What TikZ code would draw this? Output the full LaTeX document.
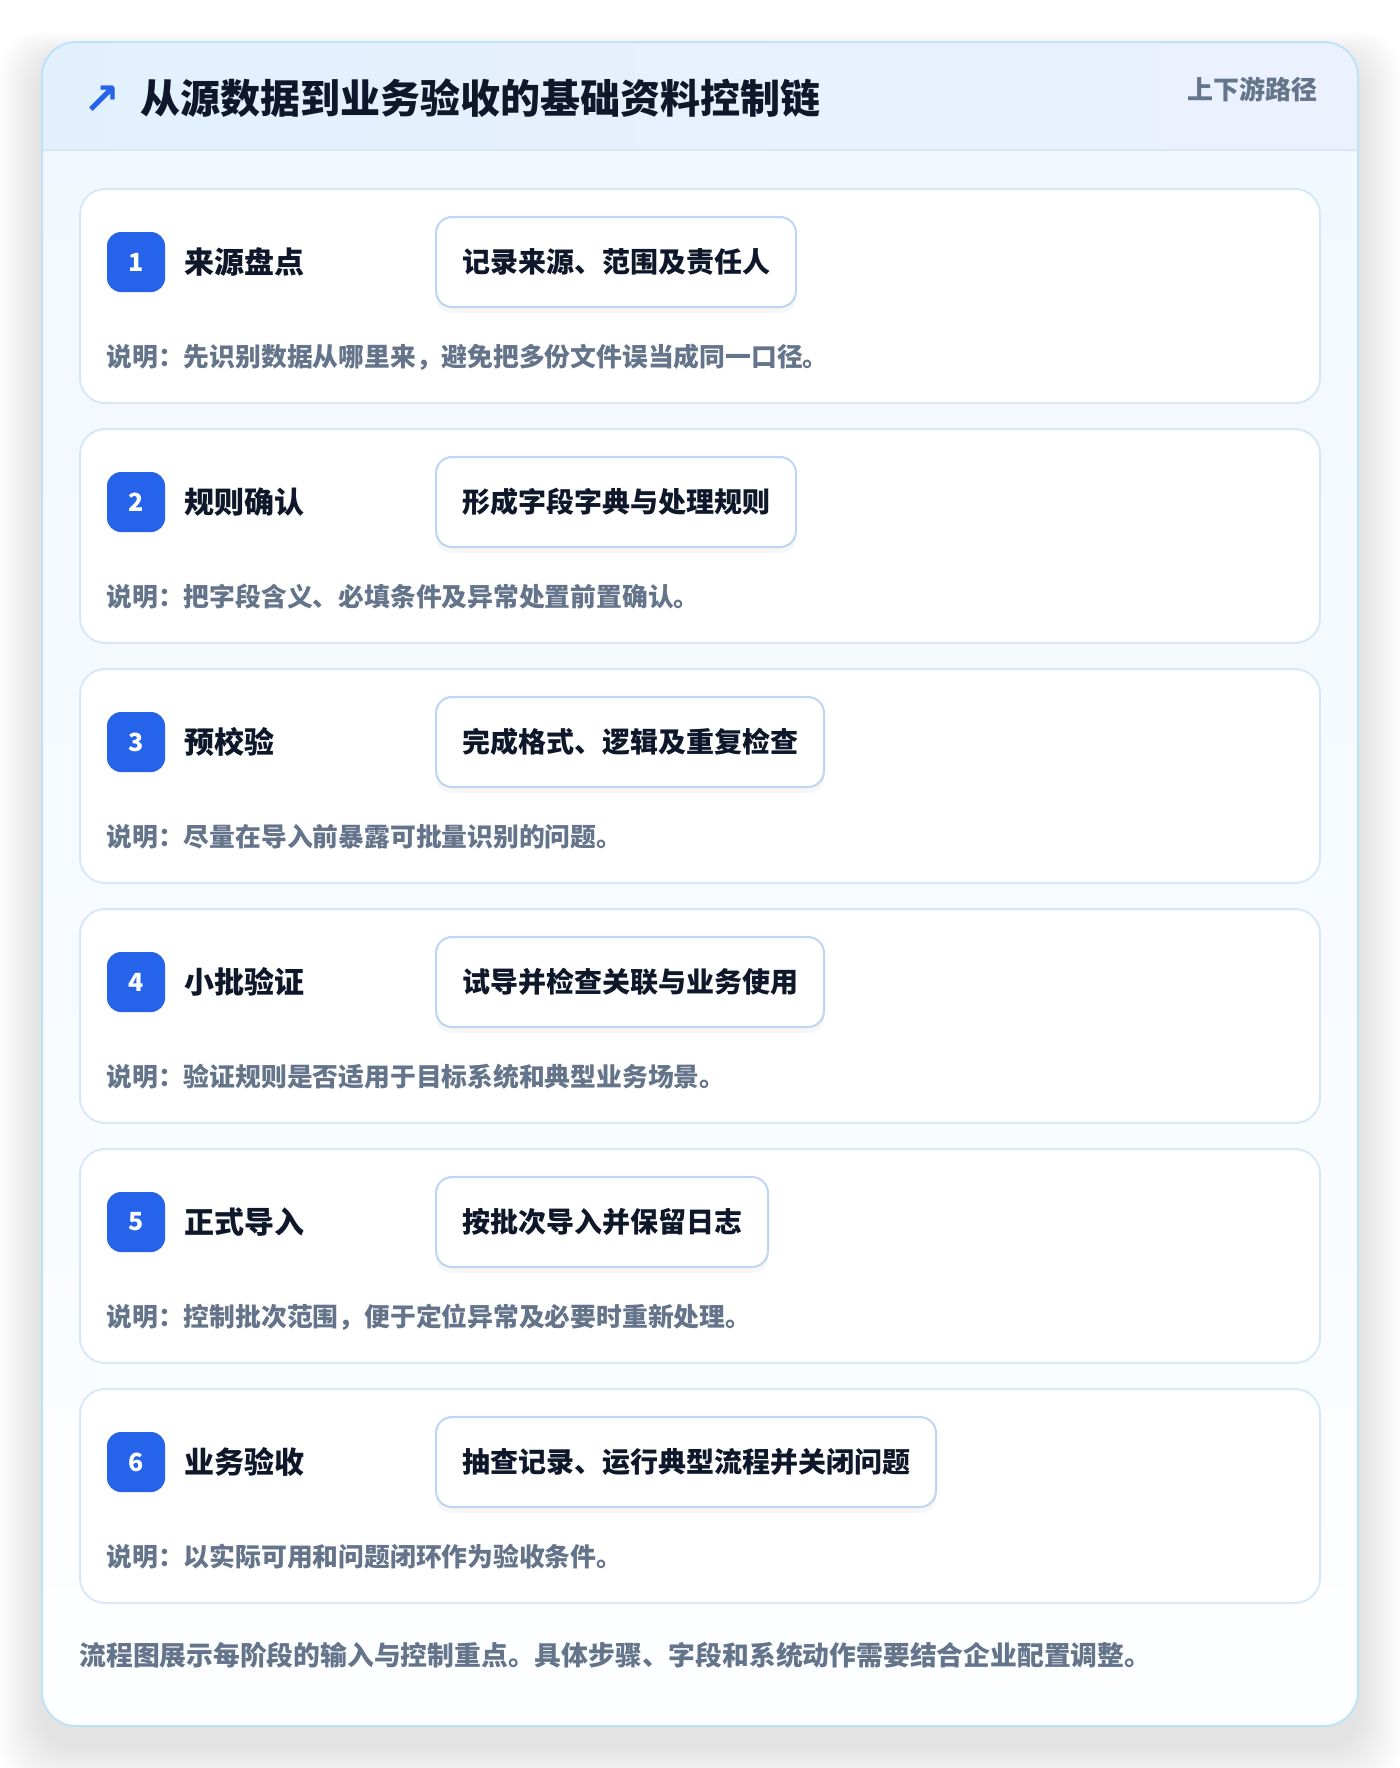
\documentclass[tikz,border=0pt]{standalone}
\usepackage{fontspec}
\setmainfont{Noto Sans CJK SC}
\newfontfamily\symfont{DejaVu Sans}
\usetikzlibrary{positioning,shadows}

\definecolor{badgeblue}{HTML}{2563EB}
\definecolor{titleink}{HTML}{0F172A}
\definecolor{noteink}{HTML}{64748B}
\definecolor{cardedge}{HTML}{BEE3F6}
\definecolor{headleft}{HTML}{E2F0FD}
\definecolor{headright}{HTML}{ECF1FE}
\definecolor{headline}{HTML}{D5E7F8}
\definecolor{bodytop}{HTML}{F0F8FF}
\definecolor{bodybottom}{HTML}{FDFEFF}
\definecolor{stepline}{HTML}{D9E8F8}
\definecolor{taskline}{HTML}{BCD6F3}

\tikzset{
  stepcard/.style={draw=stepline, fill=white, line width=1pt, rounded corners=12.5pt},
  badge/.style={fill=badgeblue, text=white, rounded corners=7pt, minimum width=29pt,
    minimum height=30pt, inner sep=0pt, font=\fontsize{12.5}{14}\selectfont\bfseries},
  steplabel/.style={anchor=west, inner sep=0pt, text=titleink,
    font=\fontsize{15}{18}\selectfont\bfseries},
  taskbox/.style={anchor=west, draw=taskline, fill=white, line width=1pt, rounded corners=8pt,
    inner xsep=13pt, minimum height=45pt, text=titleink,
    font=\fontsize{14}{17}\selectfont\bfseries,
    drop shadow={opacity=0.07, shadow xshift=0pt, shadow yshift=-3pt}},
  notetext/.style={anchor=west, inner sep=0pt, text=noteink,
    font=\fontsize{12.9}{15}\selectfont\bfseries}
}

\begin{document}
\begin{tikzpicture}[x=0.5pt, y=-0.5pt]
  \useasboundingbox (0,0) rectangle (1400,1768);

  % soft shadow round the panel
  \foreach \k in {1,...,14}
    \fill[black, opacity=0.006, rounded corners=18pt] (42-3*\k,60-2*\k) rectangle (1358+3*\k,1746+3*\k);

  \shade[top color=bodytop, bottom color=bodybottom, rounded corners=17pt] (42,42) rectangle (1358,1726);
  \begin{scope}
    \clip[rounded corners=17pt] (42,42) rectangle (1358,1726);
    \shade[left color=headleft, right color=headright] (42,42) rectangle (1358,150);
  \end{scope}
  \draw[headline, line width=1pt] (43,150) -- (1357,150);
  \draw[cardedge, line width=1pt, rounded corners=17pt] (42,42) rectangle (1358,1726);

  \node[inner sep=0pt, text=badgeblue, font=\symfont\bfseries\fontsize{22}{24}\selectfont] (icon) at (102,100) {↗};
  \node[anchor=west, inner sep=0pt, text=titleink, font=\fontsize{20}{24}\selectfont\bfseries] (title) at (140,98) {从源数据到业务验收的基础资料控制链};
  \node[anchor=east, inner sep=0pt, text=noteink, font=\fontsize{13}{15}\selectfont\bfseries] (route) at (1318,89) {上下游路径};

  \foreach \i/\name/\task/\note in {
      1/来源盘点/记录来源、范围及责任人/先识别数据从哪里来，避免把多份文件误当成同一口径。,
      2/规则确认/形成字段字典与处理规则/把字段含义、必填条件及异常处置前置确认。,
      3/预校验/完成格式、逻辑及重复检查/尽量在导入前暴露可批量识别的问题。,
      4/小批验证/试导并检查关联与业务使用/验证规则是否适用于目标系统和典型业务场景。,
      5/正式导入/按批次导入并保留日志/控制批次范围，便于定位异常及必要时重新处理。,
      6/业务验收/抽查记录、运行典型流程并关闭问题/以实际可用和问题闭环作为验收条件。}
  {
    \pgfmathsetmacro{\ytop}{189+240*(\i-1)}
    \draw[stepcard] (80,\ytop) rectangle (1320,\ytop+214);
    \node[badge] (badge\i) at (136,\ytop+73) {\i};
    \node[steplabel] (label\i) at (184,\ytop+73) {\name};
    \node[taskbox] (task\i) at (435,\ytop+73) {\task};
    \node[notetext] (note\i) at (106,\ytop+168) {说明：\note};
  }

  \node[notetext, font=\fontsize{13.4}{16}\selectfont\bfseries] (footnote) at (79,1655)
    {流程图展示每阶段的输入与控制重点。具体步骤、字段和系统动作需要结合企业配置调整。};
\end{tikzpicture}
\end{document}
